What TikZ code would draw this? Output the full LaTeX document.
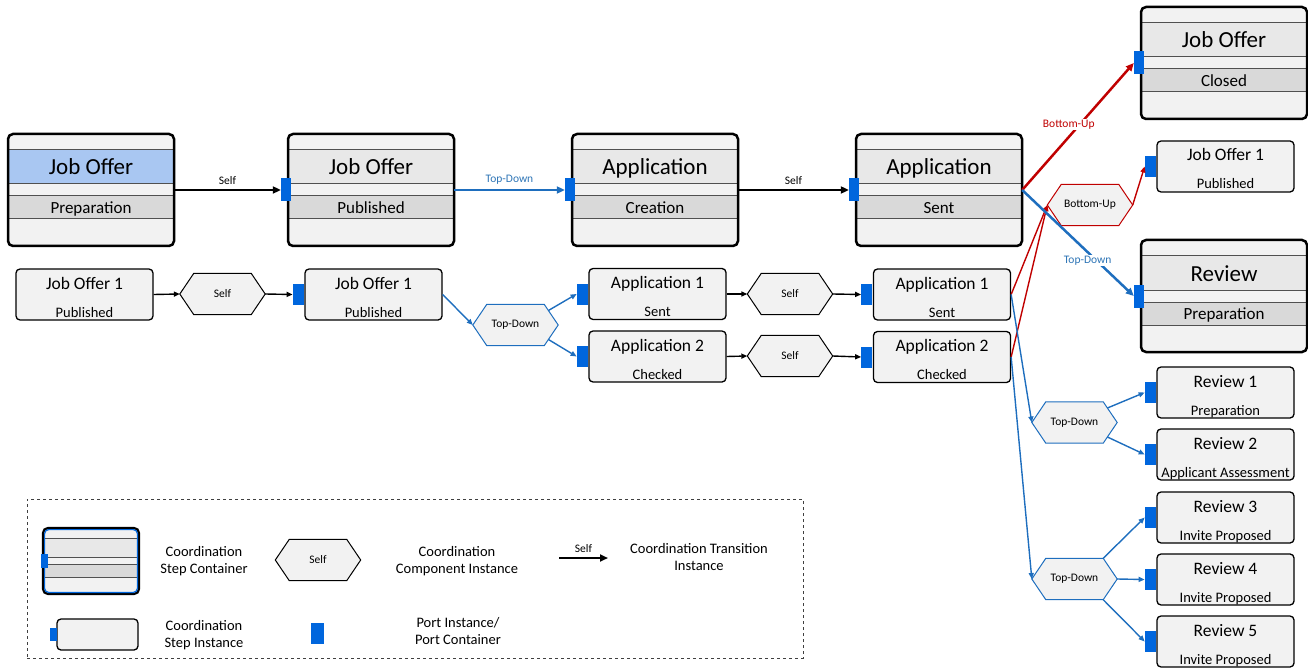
\documentclass[tikz,border=0pt]{standalone}
\usepackage{fontspec}
\setmainfont{Carlito}
\usetikzlibrary{arrows.meta,calc}
\definecolor{boxgray}{RGB}{242,242,242}
\definecolor{titlegray}{RGB}{232,232,232}
\definecolor{bandgray}{RGB}{217,217,217}
\definecolor{bandblue}{RGB}{169,199,242}
\definecolor{portblue}{RGB}{0,102,221}
\definecolor{lineblue}{RGB}{30,110,190}
\definecolor{labelblue}{RGB}{46,117,182}
\definecolor{linered}{RGB}{192,0,0}
\definecolor{bandline}{RGB}{80,80,80}
\newcommand\fs[1]{\fontsize{#1}{#1}\selectfont}
\newcommand\twoline[2]{\begin{tabular}[t]{@{}c@{}}#1\\#2\end{tabular}}
\tikzset{
 cont/.style={rectangle, inner sep=0pt, minimum width=166pt, minimum height=112pt, fill=boxgray, rounded corners=5pt},
 instbox/.style={rectangle, inner sep=0pt, draw=black, line width=1.3pt, fill=boxgray, rounded corners=4pt, minimum width=137pt, minimum height=51pt},
 port/.style={rectangle, inner sep=0pt, fill=portblue, minimum width=11pt, minimum height=21pt},
 cport/.style={port, minimum width=10pt, minimum height=23pt},
 hexa/.style={rectangle, inner sep=0pt, minimum width=85pt, minimum height=41pt},
 bigarrow/.style={line width=2.5pt, -{Triangle[length=8pt,width=7pt]}},
 smallarrow/.style={line width=1.4pt, -{Triangle[length=6pt,width=5pt]}},
 lbl/.style={font=\fs{11.5}, inner sep=1pt},
 lgtext/.style={font=\fontsize{14.5}{17}\selectfont, anchor=base, inner sep=0pt},
}
\newcommand\container[6]{%
 \node[cont] (#1) at (#2+83,#3+56) {};
 \begin{scope}
  \clip[rounded corners=5pt] (#2,#3) rectangle ++(166,112);
  \fill[#6] (#2,#3+16) rectangle ++(166,34);
  \fill[bandgray] (#2,#3+62) rectangle ++(166,23);
  \foreach \yy in {16,50,62,85} \draw[bandline,line width=1pt] (#2,#3+\yy) -- ++(166,0);
 \end{scope}
 \draw[line width=2.5pt, rounded corners=5pt] (#2,#3) rectangle ++(166,112);
 \node[font=\fs{23}, anchor=base, inner sep=0pt] at (#2+83,#3+41) {#4};
 \node[font=\fs{17}, anchor=base, inner sep=0pt] at (#2+83,#3+79.5) {#5};
}
\newcommand\inst[5]{%
 \node[instbox] (#1) at (#2,#3) {};
 \node[font=\fs{17.5}, anchor=base, inner sep=0pt] at (#2,#3-5.5) {#4};
 \node[font=\fs{14.5}, anchor=base, inner sep=0pt] at (#2,#3+22.5) {#5};
}
\newcommand\hexnode[5]{%
 \node[hexa] (#1) at (#2,#3) {};
 \draw[#4, fill=boxgray, line width=1pt] (#1.west) -- ([xshift=14pt]#1.north west) -- ([xshift=-14pt]#1.north east) -- (#1.east) -- ([xshift=-14pt]#1.south east) -- ([xshift=14pt]#1.south west) -- cycle;
 \node[font=\fs{11.5}, inner sep=0pt] at (#1.center) {#5};
}
\begin{document}
\begin{tikzpicture}[x=1pt,y=-1pt]
\useasboundingbox (0,0) rectangle (1308,668);

% containers
\container{c1}{8}{134}{Job Offer}{Preparation}{bandblue}
\container{c2}{288}{134}{Job Offer}{Published}{titlegray}
\container{c3}{572}{134}{Application}{Creation}{titlegray}
\container{c4}{856}{134}{Application}{Sent}{titlegray}
\container{c5}{1141}{7}{Job Offer}{Closed}{titlegray}
\container{c6}{1141}{240}{Review}{Preparation}{titlegray}
\node[cport] (c2p) at (286,190) {};
\node[cport] (c3p) at (570,190) {};
\node[cport] (c4p) at (854,190) {};
\node[cport] (c5p) at (1139,63) {};
\node[cport] (c6p) at (1139,296) {};

% instances
\inst{jo1a}{84.5}{294.5}{Job Offer 1}{Published}
\inst{jo1b}{373.5}{294.5}{Job Offer 1}{Published}
\inst{app1}{657.5}{294}{Application 1}{Sent}
\inst{app2}{657.5}{356.5}{Application 2}{Checked}
\inst{app1r}{942}{294.5}{Application 1}{Sent}
\inst{app2r}{942}{357}{Application 2}{Checked}
\inst{jo1r}{1225.5}{166.5}{Job Offer 1}{Published}
\inst{r1}{1225.5}{392.5}{Review 1}{Preparation}
\inst{r2}{1225.5}{454.5}{Review 2}{Applicant Assessment}
\inst{r3}{1225.5}{517.5}{Review 3}{Invite Proposed}
\inst{r4}{1225.5}{579.5}{Review 4}{Invite Proposed}
\inst{r5}{1225.5}{641.5}{Review 5}{Invite Proposed}
\foreach \n in {jo1b,app1,app2,app1r,app2r,jo1r,r1,r2,r3,r4,r5}
  \node[port] (\n p) at ([xshift=-6pt]\n.west) {};

% hexagons
\hexnode{s1}{222.5}{294}{black}{Self}
\hexnode{td1}{515.5}{325}{lineblue}{Top-Down}
\hexnode{s2}{790}{294}{black}{Self}
\hexnode{s3}{790}{356}{black}{Self}
\hexnode{bu}{1090}{205}{linered}{Bottom-Up}
\hexnode{td2}{1074.5}{422.5}{lineblue}{Top-Down}
\hexnode{td3}{1074.5}{579}{lineblue}{Top-Down}

% top-level transitions
\draw[bigarrow] (c1.east) -- (c2p.west) node[lbl, midway, above=3pt] {Self};
\draw[bigarrow, lineblue] (c2.east) -- (c3p.west) node[lbl, midway, above=3pt, text=labelblue] {Top-Down};
\draw[bigarrow] (c3.east) -- (c4p.west) node[lbl, midway, above=3pt] {Self};

% lower transitions
\draw[smallarrow] (jo1a.east) -- (s1.west);
\draw[smallarrow] (s1.east) -- (jo1bp.west);
\draw[smallarrow, lineblue] (jo1b.east) -- (td1.west);
\draw[smallarrow, lineblue] ($([xshift=-14pt]td1.north east)!0.3!(td1.east)$) -- (app1p.west);
\draw[smallarrow, lineblue] ($([xshift=-14pt]td1.south east)!0.3!(td1.east)$) -- (app2p.west);
\draw[smallarrow] (app1.east) -- (s2.west);
\draw[smallarrow] (s2.east) -- (app1rp.west);
\draw[smallarrow] (app2.east) -- (s3.west);
\draw[smallarrow] (s3.east) -- (app2rp.west);

% red bottom-up
\draw[smallarrow, linered] (app1r.east) -- (bu.west);
\draw[smallarrow, linered] (app2r.east) -- (bu.west);
\draw[smallarrow, linered] (bu.east) -- (jo1rp.west);
\draw[bigarrow, linered] (c4.east) -- (c5p.west) node[lbl, pos=0.516, xshift=-11pt, fill=white, text=linered] {Bottom-Up};

% blue top-down
\draw[bigarrow, lineblue] (c4.east) -- (c6p.west) node[lbl, pos=0.667, xshift=-9pt, fill=white, text=labelblue] {Top-Down};
\draw[smallarrow, lineblue] (app1r.east) -- (td2.west);
\draw[smallarrow, lineblue] (app2r.east) -- (td3.west);
\draw[smallarrow, lineblue] ($([xshift=-14pt]td2.north east)!0.3!(td2.east)$) -- (r1p.west);
\draw[smallarrow, lineblue] ($([xshift=-14pt]td2.south east)!0.3!(td2.east)$) -- (r2p.west);
\draw[smallarrow, lineblue] ([xshift=-14pt]td3.north east) -- (r3p.west);
\draw[smallarrow, lineblue] (td3.east) -- (r4p.west);
\draw[smallarrow, lineblue] ([xshift=-14pt]td3.south east) -- (r5p.west);

% legend
\node[draw=black!75, dashed, line width=0.8pt, inner sep=0pt, minimum width=776pt, minimum height=159pt] (legend) at (415,578.5) {};
\node[rectangle, inner sep=0pt, minimum width=94pt, minimum height=64pt, fill=boxgray, rounded corners=4pt] (lgc) at (91,561) {};
\begin{scope}
 \clip[rounded corners=4pt] (44,529) rectangle (138,593);
 \fill[titlegray] (44,538) rectangle (138,557);
 \fill[bandgray] (44,564) rectangle (138,577);
 \foreach \yy in {538,557,564,577} \draw[bandline, line width=1pt] (44,\yy) -- (138,\yy);
\end{scope}
\draw[line width=2.2pt, rounded corners=5pt] (43,528) rectangle (139,594);
\draw[portblue, line width=1.2pt, rounded corners=4pt] (44.6,529.6) rectangle (137.4,592.4);
\node[port, minimum width=7pt, minimum height=14pt] (lgcp) at (44,561) {};
\node[lgtext] (lgt1) at (204,556) {\twoline{Coordination}{Step Container}};

\hexnode{lgh}{318}{560}{black}{Self}
\node[lgtext] (lgt2) at (457,556) {\twoline{Coordination}{Component Instance}};

\coordinate (lga) at (559,558);
\coordinate (lgb) at (608,558);
\draw[bigarrow] (lga) -- (lgb) node[lbl, midway, above=3pt] {Self};
\node[lgtext] (lgt3) at (699,553) {\twoline{Coordination Transition}{Instance}};

\node[instbox, line width=1.3pt, minimum width=81pt, minimum height=31pt] (lgi) at (97.5,634.5) {};
\node[port, minimum width=7pt, minimum height=13pt] (lgip) at (53.5,634.5) {};
\node[lgtext] (lgt4) at (204,630) {\twoline{Coordination}{Step Instance}};

\node[port, minimum width=13pt, minimum height=21pt] (lgp) at (317.5,633.5) {};
\node[lgtext] (lgt5) at (458,627) {\twoline{Port Instance/}{Port Container}};
\end{tikzpicture}
\end{document}
